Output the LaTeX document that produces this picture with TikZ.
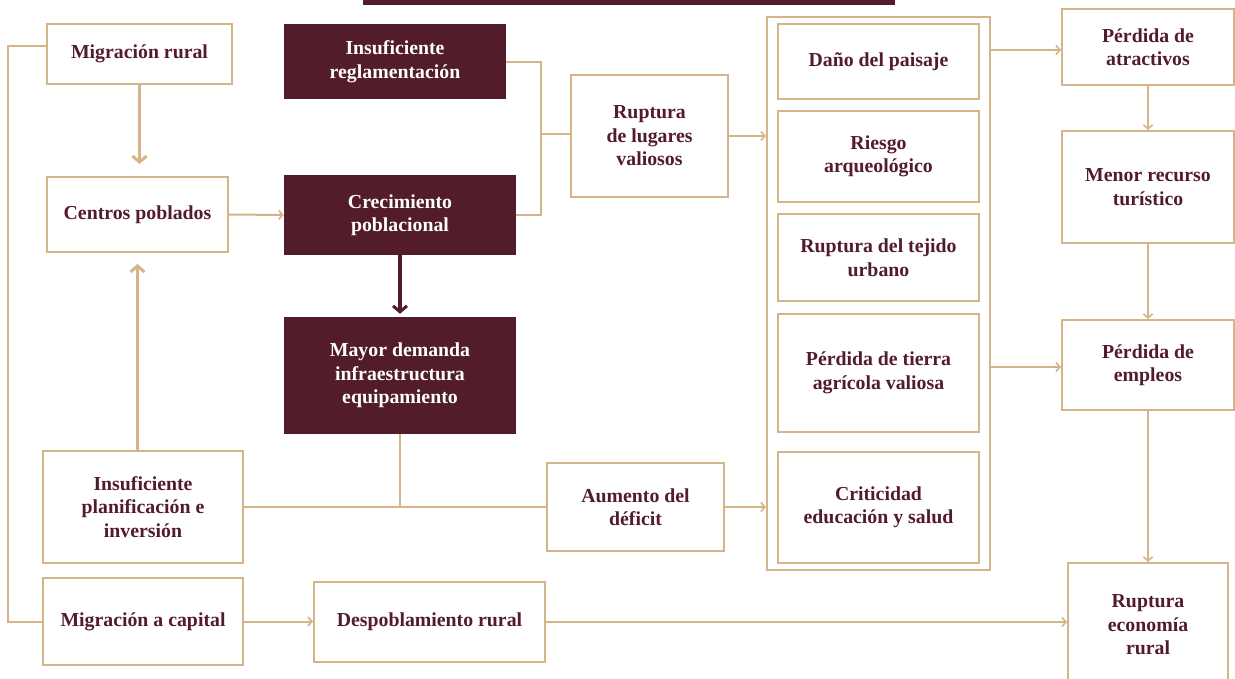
\documentclass[tikz,border=0pt]{standalone}
\usepackage{fontspec}
\setmainfont{Liberation Serif}
\usetikzlibrary{arrows.meta,calc}
\definecolor{maroon}{HTML}{521C2A}
\definecolor{tanc}{HTML}{D5B48A}
\begin{document}
\begin{tikzpicture}[x=1pt,y=-1pt,
  lbl/.style={font=\fontsize{19.8}{23.5}\selectfont\bfseries, align=center},
  wbox/.style={lbl, draw=tanc, line width=2pt, fill=white, text=maroon, inner sep=0pt},
  dbox/.style={lbl, fill=maroon, text=white, inner sep=0pt},
  conn/.style={draw=tanc, line width=2pt},
  arr/.style={conn, -{Straight Barb[length=4pt,width=9pt,line width=1.6pt]}},
  bigarr/.style={draw=tanc, line width=3.5pt, -{Straight Barb[length=6pt,width=14pt,line width=3pt]}},
  darkarr/.style={draw=maroon, line width=3.5pt, -{Straight Barb[length=6pt,width=14pt,line width=3pt]}}
]
\useasboundingbox (0,0) rectangle (1235,678);
\fill[white] (0,0) rectangle (1235,678);
\fill[maroon] (363,0) rectangle (895,5);

% left column
\node[wbox, minimum width=185, minimum height=60] (mr) at (139.5,54) {Migración rural};
\node[wbox, minimum width=181, minimum height=75] (cp) at (137.5,214.5) {Centros poblados};
\node[wbox, minimum width=200, minimum height=112] (ip) at (143,507) {Insuficiente\\planificación e\\inversión};
\node[wbox, minimum width=200, minimum height=87] (mc) at (143,621.5) {Migración a capital};

% dark boxes
\node[dbox, minimum width=222, minimum height=75] (ir) at (395,61.5) {Insuficiente\\reglamentación};
\node[dbox, minimum width=232, minimum height=80] (cr) at (400,215) {Crecimiento\\poblacional};
\node[dbox, minimum width=232, minimum height=117] (md) at (400,375.5) {Mayor demanda\\infraestructura\\equipamiento};

% middle
\node[wbox, minimum width=157, minimum height=122] (rl) at (649.5,136) {Ruptura\\de lugares\\valiosos};
\node[wbox, minimum width=177, minimum height=88] (ad) at (635.5,507) {Aumento del\\déficit};
\node[wbox, minimum width=231, minimum height=80] (dr) at (429.5,622) {Despoblamiento rural};

% container
\node[draw=tanc, line width=2pt, minimum width=223, minimum height=553, inner sep=0pt] (cont) at (878.5,293.5) {};
\node[wbox, minimum width=201, minimum height=75] (d1) at (878.5,61.5) {Daño del paisaje};
\node[wbox, minimum width=201, minimum height=91] (d2) at (878.5,156.5) {Riesgo\\arqueológico};
\node[wbox, minimum width=201, minimum height=87] (d3) at (878.5,257.5) {Ruptura del tejido\\urbano};
\node[wbox, minimum width=201, minimum height=118] (d4) at (878.5,373) {Pérdida de tierra\\agrícola valiosa};
\node[wbox, minimum width=201, minimum height=111] (d5) at (878.5,507.5) {Criticidad\\educación y salud};

% right column
\node[wbox, minimum width=172, minimum height=76] (pa) at (1148,47) {Pérdida de\\atractivos};
\node[wbox, minimum width=172, minimum height=112] (mt) at (1148,187) {Menor recurso\\turístico};
\node[wbox, minimum width=172, minimum height=90] (pe) at (1148,365) {Pérdida de\\empleos};
\node[wbox, minimum width=160, minimum height=124] (re) at (1148,625) {Ruptura\\economía\\rural};

% connectors
\coordinate (lft) at (8,46);
\draw[conn] ([yshift=8pt]mr.west) -- (lft) |- (mc.west);
\draw[bigarr, shorten >=12pt] (mr.south) -- (mr.south |- cp.north);
\draw[bigarr, shorten >=11pt] (cp.south |- ip.north) -- (cp.south);
\draw[arr] (cp.east) -- (cr.west);
\draw[darkarr, shorten >=3pt] (cr.south) -- (md.north);

\coordinate (j1) at (541,134);
\draw[conn] (ir.east) -| (j1);
\draw[conn] (cr.east) -| (j1);
\draw[conn] (j1) -- (j1 -| rl.west);
\draw[arr] (rl.east) -- (rl.east -| cont.west);

\draw[conn] (md.south) -- (md.south |- ip.east);
\draw[conn] (ip.east) -- (ad.west);
\draw[arr] (ad.east) -- (ad.east -| cont.west);

\draw[arr] ([yshift=-3pt]cont.east |- pa.west) -- ([yshift=-3pt]pa.west);
\draw[arr] (pa.south) -- (pa.south |- mt.north);
\draw[arr] (mt.south) -- (mt.south |- pe.north);
\draw[arr] ([yshift=-2pt]cont.east |- pe.west) -- ([yshift=-2pt]pe.west);
\draw[arr] (pe.south) -- (pe.south |- re.north);

\draw[arr] (mc.east) -- (mc.east -| dr.west);
\draw[arr] (dr.east) -- (dr.east -| re.west);
\end{tikzpicture}
\end{document}
